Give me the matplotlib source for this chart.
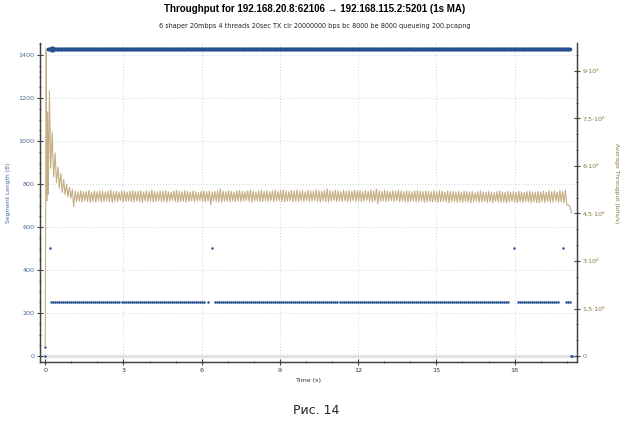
import numpy as np
import matplotlib
matplotlib.use("Agg")
from matplotlib import pyplot as plt
from matplotlib.ticker import MultipleLocator, FixedLocator

TITLE = "Throughput for 192.168.20.8:62106 \u2192 192.168.115.2:5201 (1s MA)"
SUBTITLE = "6 shaper 20mbps 4 threads 20sec TX cir 20000000 bps bc 8000 be 8000 queueing 200.pcapng"
CAPTION = "Рис. 14"

# --- average throughput (Mbit/s) ---
# start-up transient
init_t = [0.00, 0.04, 0.06, 0.09, 0.12, 0.16, 0.21, 0.27, 0.32, 0.38, 0.43, 0.49,
          0.54, 0.60, 0.65, 0.71, 0.76, 0.82, 0.87, 0.93, 0.98, 1.04, 1.09]
init_v = [0.30, 9.70, 4.90, 7.70, 5.10, 8.37, 5.93, 7.08, 5.66, 6.41, 5.47, 5.97,
          5.30, 5.77, 5.16, 5.57, 5.09, 5.43, 5.02, 5.33, 4.98, 5.25, 4.71]

# steady zig-zag: one high and one low per cycle
cycle_start = 1.15
cycle_len = 0.105
cycle_highs = [
    5.21, 5.18, 5.22, 5.19, 5.20, 5.23, 5.17, 5.21, 5.19, 5.22,
    5.20, 5.18, 5.21, 5.24, 5.19, 5.20, 5.17, 5.22, 5.20, 5.18,
    5.21, 5.23, 5.19, 5.20, 5.22, 5.18, 5.21, 5.19, 5.24, 5.20,
    5.18, 5.21, 5.20, 5.22, 5.19, 5.17, 5.21, 5.23, 5.20, 5.19,
    5.22, 5.20, 5.18, 5.21, 5.19, 5.16, 5.20, 5.22, 5.19, 5.21,
    5.18, 5.20, 5.22, 5.27, 5.21, 5.19, 5.22, 5.20, 5.18, 5.21,
    5.23, 5.20, 5.19, 5.22, 5.24, 5.20, 5.18, 5.21, 5.23, 5.20,
    5.22, 5.19, 5.21, 5.24, 5.20, 5.22, 5.25, 5.21, 5.19, 5.23,
    5.21, 5.24, 5.20, 5.22, 5.19, 5.23, 5.21, 5.20, 5.24, 5.22,
    5.20, 5.23, 5.28, 5.22, 5.20, 5.24, 5.21, 5.19, 5.23, 5.21,
    5.22, 5.20, 5.24, 5.21, 5.23, 5.19, 5.22, 5.20, 5.25, 5.21,
    5.27, 5.22, 5.20, 5.23, 5.21, 5.19, 5.22, 5.20, 5.24, 5.21,
    5.19, 5.22, 5.20, 5.18, 5.21, 5.23, 5.20, 5.19, 5.22, 5.20,
    5.18, 5.21, 5.19, 5.22, 5.20, 5.17, 5.21, 5.19, 5.20, 5.18,
    5.20, 5.17, 5.21, 5.19, 5.18, 5.20, 5.16, 5.19, 5.21, 5.18,
    5.17, 5.20, 5.18, 5.16, 5.19, 5.21, 5.18, 5.17, 5.20, 5.18,
    5.19, 5.17, 5.20, 5.18, 5.16, 5.19, 5.21, 5.18, 5.17, 5.19,
    5.18, 5.20, 5.17, 5.22, 5.19, 5.21, 5.18, 5.23, 5.20, 5.24,
]
cycle_lows = [
    4.87, 4.89, 4.86, 4.90, 4.88, 4.85, 4.89, 4.87, 4.90, 4.86,
    4.88, 4.90, 4.87, 4.85, 4.89, 4.88, 4.91, 4.86, 4.88, 4.90,
    4.87, 4.86, 4.89, 4.88, 4.85, 4.90, 4.87, 4.89, 4.86, 4.88,
    4.90, 4.87, 4.88, 4.86, 4.89, 4.91, 4.87, 4.85, 4.88, 4.89,
    4.86, 4.88, 4.90, 4.87, 4.89, 4.91, 4.88, 4.86, 4.89, 4.77,
    4.90, 4.88, 4.87, 4.86, 4.89, 4.88, 4.86, 4.90, 4.87, 4.89,
    4.87, 4.89, 4.91, 4.88, 4.86, 4.89, 4.90, 4.87, 4.88, 4.90,
    4.88, 4.90, 4.87, 4.89, 4.91, 4.88, 4.86, 4.89, 4.90, 4.87,
    4.89, 4.87, 4.90, 4.88, 4.91, 4.87, 4.89, 4.90, 4.88, 4.86,
    4.90, 4.88, 4.86, 4.89, 4.91, 4.87, 4.89, 4.88, 4.90, 4.87,
    4.89, 4.91, 4.88, 4.90, 4.87, 4.89, 4.91, 4.88, 4.86, 4.89,
    4.80, 4.88, 4.90, 4.87, 4.89, 4.91, 4.88, 4.90, 4.87, 4.89,
    4.87, 4.85, 4.88, 4.90, 4.86, 4.87, 4.89, 4.85, 4.87, 4.88,
    4.86, 4.88, 4.85, 4.87, 4.89, 4.86, 4.84, 4.87, 4.88, 4.85,
    4.87, 4.85, 4.88, 4.86, 4.84, 4.87, 4.89, 4.85, 4.86, 4.88,
    4.85, 4.87, 4.84, 4.88, 4.86, 4.85, 4.87, 4.83, 4.86, 4.88,
    4.86, 4.84, 4.87, 4.85, 4.88, 4.86, 4.84, 4.87, 4.85, 4.83,
    4.87, 4.85, 4.88, 4.84, 4.86, 4.89, 4.85, 4.87, 4.84, 4.78,
]
tail_t = [20.10, 20.18]
tail_v = [4.75, 4.52]

# --- segment lengths (bytes) ---
full_seg_len = 1428
full_seg_span = (0.10, 20.12)
full_seg_count = 900
small_seg_len = 250
small_seg_runs = [(0.23, 6.15), (6.51, 17.80), (18.14, 19.70), (19.96, 20.13)]
small_seg_step = 0.077
odd_seg_t = [0.00, 0.00, 0.17, 6.26, 6.40, 17.99, 19.87, 20.15, 20.20]
odd_seg_len = [0, 42, 504, 250, 504, 504, 504, 0, 0]
marked_seg_t = [0.25]

right_ticks = [0, 1.5e6, 3e6, 4.5e6, 6e6, 7.5e6, 9e6]
right_labels = ["0", "1,5\u00b710\u2076", "3\u00b710\u2076", "4,5\u00b710\u2076",
                "6\u00b710\u2076", "7,5\u00b710\u2076", "9\u00b710\u2076"]

BLUE = "#24508f"
BLUE_TXT = "#4a6896"
TAN = "#c4ae84"
TAN_TXT = "#8c7443"
SPINE = "#404040"
TICK_FS = 4.6

# build throughput line
steady_t, steady_v = [], []
for i, (hi, lo) in enumerate(zip(cycle_highs, cycle_lows)):
    steady_t += [cycle_start + i * cycle_len, cycle_start + (i + 0.5) * cycle_len]
    steady_v += [hi, lo]
tput_t = np.array(init_t + steady_t + tail_t)
tput_v = np.array(init_v + steady_v + tail_v) * 1e6

full_t = np.linspace(full_seg_span[0], full_seg_span[1], full_seg_count)
small_t = np.concatenate([np.arange(a, b + 1e-9, small_seg_step) for a, b in small_seg_runs])

fig = plt.figure(figsize=(6.29, 4.22), dpi=100)
ax = fig.add_axes([0.0636, 0.142, 0.8537, 0.756])
ax2 = ax.twinx()

ax.axhline(0, color="#e6e6e6", lw=2.5, zorder=0)
ax.plot(full_t, np.full_like(full_t, full_seg_len), "o", ms=2.6, color=BLUE, mew=0)
ax.plot(small_t, np.full_like(small_t, small_seg_len), "o", ms=1.8, color=BLUE, mew=0)
ax.plot(odd_seg_t, odd_seg_len, "o", ms=1.8, color=BLUE, mew=0)
ax.plot(marked_seg_t, [full_seg_len], "o", ms=4.5, color=BLUE, mew=0)

ax2.plot(tput_t, tput_v, color=TAN, lw=0.8)

ax.set_xlim(-0.2, 20.39)
ax.set_ylim(-28, 1456)
ax2.set_ylim(-0.19e6, 9.88e6)

ax.xaxis.set_major_locator(MultipleLocator(3))
ax.xaxis.set_minor_locator(MultipleLocator(1))
ax.yaxis.set_major_locator(MultipleLocator(200))
ax.yaxis.set_minor_locator(MultipleLocator(50))
ax2.yaxis.set_major_locator(FixedLocator(right_ticks))
ax2.set_yticklabels(right_labels)
ax2.yaxis.set_minor_locator(MultipleLocator(0.5e6))

ax.grid(True, which="major", color="#d4d4d4", ls=(0, (1, 2)), lw=0.7)
ax.set_axisbelow(True)

for a in (ax, ax2):
    a.spines["top"].set_visible(False)
    for s in ("left", "right", "bottom"):
        a.spines[s].set_color(SPINE)
        a.spines[s].set_linewidth(0.9)

ax.tick_params(axis="x", which="both", direction="inout", colors=SPINE, labelsize=TICK_FS,
               labelcolor="#333333", pad=2)
ax.tick_params(axis="x", which="major", length=4)
ax.tick_params(axis="x", which="minor", length=2)
ax.tick_params(axis="y", which="both", direction="inout", colors=SPINE, labelsize=TICK_FS,
               labelcolor=BLUE_TXT, pad=2)
ax.tick_params(axis="y", which="major", length=4)
ax.tick_params(axis="y", which="minor", length=2)
ax2.tick_params(axis="y", which="both", direction="inout", colors=SPINE, labelsize=TICK_FS,
                labelcolor=TAN_TXT, pad=2)
ax2.tick_params(axis="y", which="major", length=4)
ax2.tick_params(axis="y", which="minor", length=2)

ax.set_xlabel("Time (s)", fontsize=4.6, color="#333333", labelpad=4)
ax.set_ylabel("Segment Length (B)", fontsize=4.3, color=BLUE_TXT)
ax.yaxis.set_label_coords(-0.054, 0.53)
ax2.set_ylabel("Average Througput (bits/s)", fontsize=4.3, color=TAN_TXT, rotation=270,
               va="center")
ax2.yaxis.set_label_coords(1.0745, 0.56)

fig.text(0.5, 0.978, TITLE, ha="center", va="center", fontsize=7, fontweight="bold",
         family="Liberation Sans")
fig.text(0.5, 0.938, SUBTITLE, ha="center", va="center", fontsize=4.7, color="#222222")
fig.text(0.502, 0.028, CAPTION, ha="center", va="center", fontsize=9, color="#222222")

fig.savefig("out.png", dpi=100)
